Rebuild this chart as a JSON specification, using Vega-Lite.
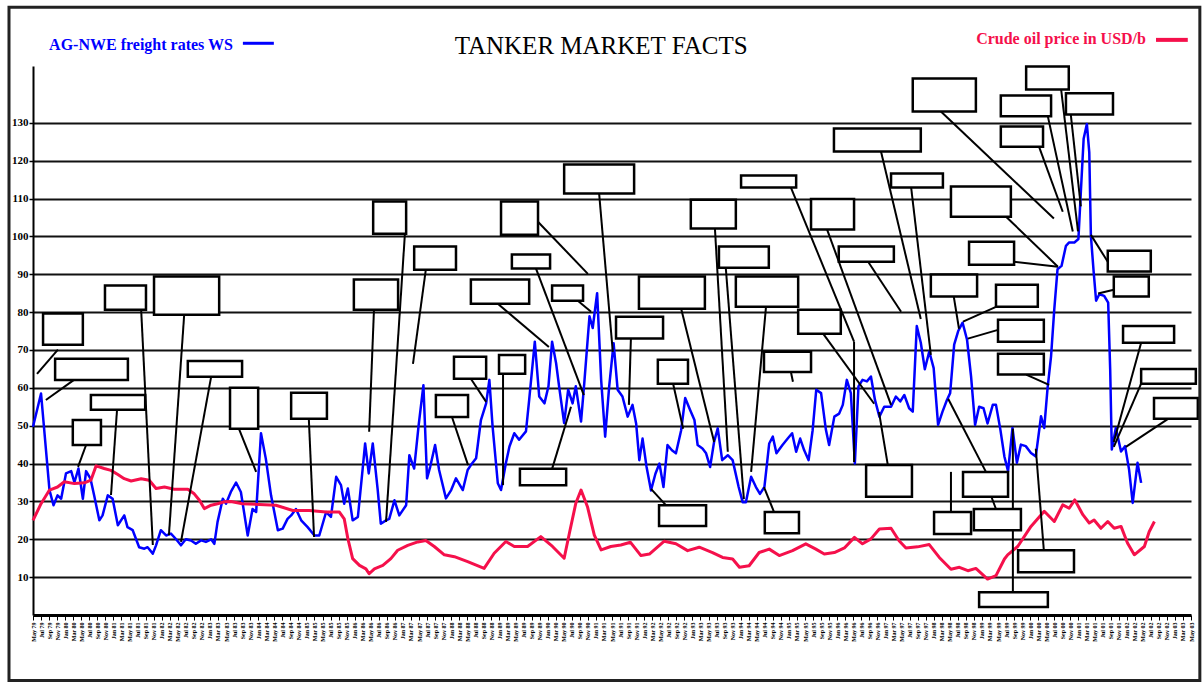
{
  "$schema": "https://vega.github.io/schema/vega-lite/v6.json",
  "width": 1158,
  "height": 549,
  "padding": {"left": 7, "top": 5, "right": 3, "bottom": 3},
  "background": "white",
  "config": {"view": {"stroke": null}, "font": "Liberation Serif"},
  "datasets": {
    "freight": [
      {"m":0,"ws":49.7},{"m":2.0,"ws":58.5},{"m":4.1,"ws":33},{"m":5.1,"ws":29},{"m":6.1,"ws":31.6},{"m":7.0,"ws":30.7},{"m":8.2,"ws":37.4},{"m":9.5,"ws":38},{"m":10.3,"ws":35},{"m":11.3,"ws":38.7},{"m":12.4,"ws":30.7},{"m":13.2,"ws":38},{"m":14.3,"ws":36},{"m":15.2,"ws":31.6},{"m":16.5,"ws":25},{"m":17.3,"ws":26.3},{"m":18.6,"ws":31.6},{"m":19.8,"ws":30.7},{"m":21.1,"ws":23.7},{"m":22.7,"ws":26.3},{"m":23.5,"ws":23.2},{"m":24.8,"ws":22.4},{"m":26.4,"ws":17.9},{"m":27.7,"ws":17.5},{"m":28.5,"ws":17.9},{"m":29.8,"ws":16.2},{"m":30.6,"ws":18.4},{"m":31.8,"ws":22.4},{"m":33.1,"ws":21},{"m":34.3,"ws":21.5},{"m":35.6,"ws":20},{"m":36.8,"ws":18.4},{"m":38.0,"ws":20},{"m":39.3,"ws":19.7},{"m":40.5,"ws":18.8},{"m":41.8,"ws":19.7},{"m":43.0,"ws":19.3},{"m":44.3,"ws":20},{"m":45.1,"ws":18.8},{"m":45.9,"ws":24.6},{"m":47.2,"ws":30.7},{"m":48.0,"ws":29.4},{"m":49.2,"ws":32.5},{"m":50.5,"ws":35},{"m":51.7,"ws":32.5},{"m":53.4,"ws":21},{"m":54.6,"ws":28},{"m":55.5,"ws":27.2},{"m":56.7,"ws":48},{"m":57.9,"ws":41.3},{"m":59.2,"ws":31.6},{"m":60.9,"ws":22.4},{"m":62.1,"ws":22.8},{"m":63.3,"ws":25.4},{"m":64.2,"ws":26.3},{"m":65.4,"ws":28},{"m":66.7,"ws":25},{"m":68.3,"ws":23.2},{"m":70.0,"ws":21},{"m":71.2,"ws":21},{"m":72.9,"ws":27.2},{"m":74.1,"ws":25.9},{"m":75.4,"ws":36.5},{"m":76.6,"ws":34.3},{"m":77.4,"ws":29.4},{"m":78.3,"ws":33.4},{"m":79.5,"ws":25},{"m":80.8,"ws":25.9},{"m":82.0,"ws":38.7},{"m":82.6,"ws":45.3},{"m":83.5,"ws":37.4},{"m":84.5,"ws":45.3},{"m":85.7,"ws":33.4},{"m":86.5,"ws":24.1},{"m":87.8,"ws":25},{"m":88.6,"ws":25.4},{"m":89.9,"ws":30.3},{"m":91.1,"ws":26.3},{"m":92.8,"ws":29},{"m":93.6,"ws":42.2},{"m":94.8,"ws":38.7},{"m":95.9,"ws":50},{"m":97.1,"ws":60.7},{"m":98.0,"ws":36.1},{"m":98.8,"ws":39.2},{"m":100.0,"ws":44.9},{"m":101.0,"ws":38.3},{"m":102.7,"ws":30.8},{"m":104.0,"ws":33},{"m":105.2,"ws":36.1},{"m":106.9,"ws":33},{"m":108.1,"ws":38.3},{"m":108.9,"ws":39.6},{"m":110.2,"ws":41.4},{"m":111.4,"ws":51.5},{"m":112.7,"ws":55.9},{"m":113.5,"ws":62.1},{"m":114.3,"ws":49.8},{"m":115.6,"ws":34.8},{"m":116.4,"ws":33},{"m":117.6,"ws":40.1},{"m":118.5,"ws":44.5},{"m":119.7,"ws":48},{"m":120.9,"ws":46.3},{"m":122.6,"ws":48.5},{"m":123.4,"ws":56.8},{"m":124.8,"ws":72.2},{"m":125.9,"ws":57.7},{"m":127.2,"ws":55.9},{"m":128.2,"ws":60.4},{"m":129.1,"ws":72.2},{"m":130.1,"ws":66.5},{"m":130.9,"ws":59.9},{"m":132.1,"ws":50.7},{"m":133.1,"ws":59.5},{"m":134.2,"ws":55.9},{"m":135.0,"ws":60.4},{"m":136.3,"ws":51.1},{"m":137.1,"ws":61.2},{"m":138.4,"ws":78.9},{"m":139.2,"ws":75.8},{"m":140.3,"ws":85},{"m":141.3,"ws":62.1},{"m":142.3,"ws":47.1},{"m":143.3,"ws":60.4},{"m":144.4,"ws":71.8},{"m":145.4,"ws":59.5},{"m":146.6,"ws":57.7},{"m":147.9,"ws":52.4},{"m":149.1,"ws":55.5},{"m":150.0,"ws":50.6},{"m":150.8,"ws":40.9},{"m":151.6,"ws":46.6},{"m":152.6,"ws":39.1},{"m":153.7,"ws":32.9},{"m":154.8,"ws":37.3},{"m":155.8,"ws":40},{"m":156.8,"ws":33.8},{"m":157.8,"ws":44.9},{"m":158.9,"ws":43.5},{"m":159.9,"ws":42.7},{"m":161.2,"ws":48.8},{"m":162.2,"ws":57.3},{"m":163.4,"ws":54.2},{"m":164.5,"ws":51.5},{"m":165.3,"ws":44.9},{"m":166.5,"ws":44},{"m":167.4,"ws":42.7},{"m":168.4,"ws":39.1},{"m":169.4,"ws":45.8},{"m":170.3,"ws":49.3},{"m":171.4,"ws":40.9},{"m":172.8,"ws":42.2},{"m":174.0,"ws":40.9},{"m":175.5,"ws":33.8},{"m":176.5,"ws":29.8},{"m":177.3,"ws":29.8},{"m":178.6,"ws":36.5},{"m":179.8,"ws":33.8},{"m":180.8,"ws":32},{"m":181.9,"ws":33.8},{"m":183.1,"ws":45.3},{"m":184.0,"ws":47.1},{"m":184.9,"ws":42.7},{"m":186.4,"ws":44.9},{"m":187.7,"ws":46.6},{"m":188.8,"ws":48},{"m":189.8,"ws":43.1},{"m":190.8,"ws":46.6},{"m":191.8,"ws":43.5},{"m":192.9,"ws":40.9},{"m":193.9,"ws":48.8},{"m":194.8,"ws":59.5},{"m":196.0,"ws":58.6},{"m":197.2,"ws":48.9},{"m":198.0,"ws":44.9},{"m":199.3,"ws":52.4},{"m":200.5,"ws":53.2},{"m":201.4,"ws":55.5},{"m":202.4,"ws":62.1},{"m":203.4,"ws":58.6},{"m":204.4,"ws":40},{"m":205.3,"ws":60.4},{"m":206.3,"ws":62.1},{"m":207.4,"ws":61.7},{"m":208.4,"ws":63},{"m":209.4,"ws":56.8},{"m":210.5,"ws":52.4},{"m":211.7,"ws":55},{"m":213.4,"ws":55},{"m":214.6,"ws":57.7},{"m":215.7,"ws":56.4},{"m":216.7,"ws":58.1},{"m":217.9,"ws":54.6},{"m":218.8,"ws":53.7},{"m":219.8,"ws":76.3},{"m":220.8,"ws":71.9},{"m":221.8,"ws":64.9},{"m":222.9,"ws":69.6},{"m":224.0,"ws":65.2},{"m":225.1,"ws":50.2},{"m":226.2,"ws":53.7},{"m":227.3,"ws":56.8},{"m":228.1,"ws":58.6},{"m":229.1,"ws":71.4},{"m":230.1,"ws":75},{"m":231.2,"ws":77.2},{"m":232.3,"ws":72.7},{"m":233.3,"ws":63},{"m":234.3,"ws":50.2},{"m":235.3,"ws":55},{"m":236.4,"ws":54.6},{"m":237.4,"ws":50.6},{"m":238.7,"ws":55.5},{"m":239.5,"ws":55.5},{"m":240.6,"ws":48.9},{"m":241.6,"ws":41.8},{"m":242.5,"ws":38},{"m":243.6,"ws":49.4},{"m":244.7,"ws":40.2},{"m":245.7,"ws":45},{"m":246.9,"ws":44.6},{"m":248.2,"ws":42.8},{"m":249.4,"ws":41.9},{"m":250.7,"ws":52.5},{"m":251.5,"ws":49.4},{"m":252.3,"ws":59.6},{"m":253.2,"ws":68.4},{"m":254.0,"ws":80.8},{"m":254.8,"ws":91.3},{"m":255.8,"ws":92.2},{"m":256.9,"ws":97.5},{"m":257.7,"ws":98.4},{"m":259.0,"ws":98.4},{"m":260.0,"ws":99.3},{"m":260.6,"ws":111.6},{"m":261.3,"ws":125.8},{"m":262.1,"ws":129.7},{"m":262.7,"ws":122.2},{"m":263.1,"ws":100.2},{"m":263.8,"ws":90.5},{"m":264.4,"ws":83},{"m":265.2,"ws":84.7},{"m":266.4,"ws":84.3},{"m":267.4,"ws":82.5},{"m":267.9,"ws":64.9},{"m":268.3,"ws":43.7},{"m":269.3,"ws":49.4},{"m":270.6,"ws":43.2},{"m":271.6,"ws":44.6},{"m":272.6,"ws":38.4},{"m":273.5,"ws":29.6},{"m":274.7,"ws":40.2},{"m":275.6,"ws":34.9}
    ],
    "crude": [
      {"m":0,"usd":25},{"m":2.0,"usd":29.4},{"m":4.1,"usd":33},{"m":6.1,"usd":33.8},{"m":7.8,"usd":35.2},{"m":10.3,"usd":34.7},{"m":12.8,"usd":34.9},{"m":14.4,"usd":35.6},{"m":15.7,"usd":39.4},{"m":17.7,"usd":38.7},{"m":19.4,"usd":38.2},{"m":21.1,"usd":37.1},{"m":22.7,"usd":36},{"m":24.4,"usd":35.4},{"m":26.9,"usd":36},{"m":28.9,"usd":35.6},{"m":30.6,"usd":33.4},{"m":32.7,"usd":33.8},{"m":35.1,"usd":33.2},{"m":38.5,"usd":33.2},{"m":40.1,"usd":32},{"m":41.4,"usd":30.3},{"m":42.6,"usd":28.1},{"m":44.3,"usd":29},{"m":45.9,"usd":29.4},{"m":47.6,"usd":29.9},{"m":49.2,"usd":30},{"m":52.1,"usd":29.4},{"m":56.3,"usd":29.2},{"m":60.4,"usd":29},{"m":64.6,"usd":27.6},{"m":68.7,"usd":27.6},{"m":72.9,"usd":27.2},{"m":76.2,"usd":27.2},{"m":77.4,"usd":25.4},{"m":78.3,"usd":20.2},{"m":79.5,"usd":14.9},{"m":81.2,"usd":13.1},{"m":82.8,"usd":12.2},{"m":83.6,"usd":10.9},{"m":84.9,"usd":12.2},{"m":87.0,"usd":13.1},{"m":89.0,"usd":14.9},{"m":90.7,"usd":17.1},{"m":93.2,"usd":18.4},{"m":95.7,"usd":19.3},{"m":97.7,"usd":19.7},{"m":99.8,"usd":18.1},{"m":102.3,"usd":15.9},{"m":104.8,"usd":15.4},{"m":108.1,"usd":14.1},{"m":112.2,"usd":12.3},{"m":114.7,"usd":16.3},{"m":117.6,"usd":19.4},{"m":119.7,"usd":18.1},{"m":123.0,"usd":18.1},{"m":126.3,"usd":20.7},{"m":129.2,"usd":18.1},{"m":132.1,"usd":15},{"m":133.4,"usd":21.6},{"m":135.0,"usd":29.5},{"m":136.3,"usd":33},{"m":137.9,"usd":28.6},{"m":139.6,"usd":21.1},{"m":141.3,"usd":17.2},{"m":143.7,"usd":18.1},{"m":146.2,"usd":18.5},{"m":148.6,"usd":19.2},{"m":151.2,"usd":15.7},{"m":153.3,"usd":16.1},{"m":157.0,"usd":19.5},{"m":159.9,"usd":18.8},{"m":162.8,"usd":17},{"m":165.7,"usd":17.9},{"m":169.0,"usd":16.5},{"m":171.5,"usd":15.2},{"m":174.0,"usd":14.8},{"m":175.7,"usd":12.6},{"m":178.1,"usd":13},{"m":180.6,"usd":16.5},{"m":183.1,"usd":17.4},{"m":185.6,"usd":15.7},{"m":188.9,"usd":17},{"m":192.2,"usd":18.8},{"m":194.7,"usd":17.4},{"m":196.8,"usd":16.1},{"m":199.3,"usd":16.5},{"m":201.8,"usd":17.7},{"m":204.3,"usd":20.5},{"m":206.3,"usd":18.8},{"m":208.4,"usd":20.1},{"m":210.5,"usd":22.7},{"m":213.4,"usd":22.9},{"m":215.4,"usd":19.6},{"m":217.1,"usd":17.7},{"m":220.0,"usd":18},{"m":222.9,"usd":18.6},{"m":225.4,"usd":15.2},{"m":228.3,"usd":12.1},{"m":230.4,"usd":12.6},{"m":232.5,"usd":11.7},{"m":234.5,"usd":12.3},{"m":237.4,"usd":9.5},{"m":239.5,"usd":10.4},{"m":241.6,"usd":14.8},{"m":242.4,"usd":15.9},{"m":244.9,"usd":18.1},{"m":248.2,"usd":23.4},{"m":251.5,"usd":27.4},{"m":254.0,"usd":24.7},{"m":256.1,"usd":29.1},{"m":257.7,"usd":28.2},{"m":259.1,"usd":30.4},{"m":261.1,"usd":26.5},{"m":262.7,"usd":24.3},{"m":263.9,"usd":25.1},{"m":265.6,"usd":22.9},{"m":267.3,"usd":24.7},{"m":268.9,"usd":22.9},{"m":270.6,"usd":23.4},{"m":272.2,"usd":19},{"m":273.9,"usd":15.9},{"m":276.4,"usd":18.1},{"m":277.6,"usd":22},{"m":278.9,"usd":24.7}
    ],
    "boxes": [
      {"m1":2.5,"m2":12.4,"v1":79.6,"v2":71.4},{"m1":5.5,"m2":23.6,"v1":67.7,"v2":62.1},{"m1":14.4,"m2":27.9,"v1":58.1,"v2":54.2},{"m1":9.9,"m2":16.9,"v1":51.5,"v2":44.9},{"m1":17.9,"m2":28.1,"v1":87.0,"v2":80.6},{"m1":30.1,"m2":46.3,"v1":89.4,"v2":79.3},{"m1":38.5,"m2":52.0,"v1":67.1,"v2":62.9},{"m1":49.0,"m2":56.0,"v1":60.0,"v2":49.2},{"m1":64.2,"m2":73.1,"v1":58.7,"v2":51.8},{"m1":79.8,"m2":90.8,"v1":88.6,"v2":80.6},{"m1":84.6,"m2":92.8,"v1":109.2,"v2":100.7},{"m1":94.8,"m2":105.2,"v1":97.3,"v2":91.2},{"m1":104.7,"m2":112.7,"v1":68.2,"v2":62.4},{"m1":100.2,"m2":108.2,"v1":58.1,"v2":52.3},{"m1":115.9,"m2":122.4,"v1":68.7,"v2":63.7},{"m1":108.9,"m2":123.4,"v1":88.6,"v2":82.2},{"m1":119.1,"m2":128.6,"v1":95.2,"v2":91.5},{"m1":116.4,"m2":125.6,"v1":109.2,"v2":100.4},{"m1":129.1,"m2":136.8,"v1":87.0,"v2":83.0},{"m1":121.1,"m2":132.6,"v1":38.6,"v2":34.3},{"m1":132.1,"m2":149.5,"v1":119.0,"v2":111.3},{"m1":145.0,"m2":156.7,"v1":78.8,"v2":73.0},{"m1":150.7,"m2":167.1,"v1":89.4,"v2":80.9},{"m1":155.4,"m2":162.9,"v1":67.4,"v2":61.1},{"m1":155.7,"m2":167.4,"v1":29.0,"v2":23.5},{"m1":170.6,"m2":183.0,"v1":97.3,"v2":91.7},{"m1":163.6,"m2":174.8,"v1":109.7,"v2":102.1},{"m1":174.8,"m2":190.3,"v1":89.4,"v2":81.4},{"m1":181.8,"m2":193.5,"v1":69.5,"v2":64.2},{"m1":182.0,"m2":190.5,"v1":27.2,"v2":21.6},{"m1":176.1,"m2":189.8,"v1":116.1,"v2":112.9},{"m1":193.5,"m2":204.2,"v1":109.9,"v2":101.8},{"m1":200.4,"m2":214.1,"v1":97.3,"v2":93.3},{"m1":190.3,"m2":200.9,"v1":80.6,"v2":74.3},{"m1":199.2,"m2":220.8,"v1":128.5,"v2":122.4},{"m1":213.4,"m2":226.3,"v1":116.6,"v2":112.9},{"m1":218.8,"m2":234.5,"v1":141.7,"v2":133.0},{"m1":223.3,"m2":234.8,"v1":89.9,"v2":84.1},{"m1":207.2,"m2":218.6,"v1":39.6,"v2":31.2},{"m1":231.3,"m2":242.5,"v1":37.8,"v2":31.2},{"m1":224.1,"m2":233.3,"v1":27.2,"v2":21.4},{"m1":234.0,"m2":245.7,"v1":28.0,"v2":22.4},{"m1":240.7,"m2":251.2,"v1":129.0,"v2":123.7},{"m1":240.7,"m2":253.2,"v1":137.2,"v2":131.7},{"m1":247.0,"m2":257.6,"v1":144.9,"v2":138.8},{"m1":256.9,"m2":268.6,"v1":137.8,"v2":132.2},{"m1":228.3,"m2":243.2,"v1":113.2,"v2":105.2},{"m1":232.8,"m2":244.0,"v1":98.6,"v2":92.5},{"m1":239.5,"m2":249.9,"v1":87.2,"v2":81.4},{"m1":240.0,"m2":251.4,"v1":78.0,"v2":72.2},{"m1":240.0,"m2":251.4,"v1":69.0,"v2":63.5},{"m1":267.3,"m2":278.0,"v1":96.2,"v2":90.7},{"m1":268.8,"m2":277.5,"v1":89.4,"v2":84.1},{"m1":271.1,"m2":283.8,"v1":76.3,"v2":71.9},{"m1":275.6,"m2":289.2,"v1":65.0,"v2":61.1},{"m1":278.8,"m2":289.7,"v1":57.3,"v2":51.8},{"m1":245.0,"m2":258.9,"v1":17.1,"v2":11.3},{"m1":235.3,"m2":252.4,"v1":6.0,"v2":2.1}
    ],
    "leaders": [
      {"m1":6.2,"v1":70.1,"m2":1.0,"v2":63.7},{"m1":10.2,"v1":62.1,"m2":3.2,"v2":56.8},{"m1":20.9,"v1":54.2,"m2":19.4,"v2":31.7},{"m1":13.2,"v1":44.9,"m2":11.2,"v2":39.1},{"m1":26.9,"v1":80.6,"m2":29.8,"v2":18.5},{"m1":37.6,"v1":79.3,"m2":33.8,"v2":21.1},{"m1":44.3,"v1":62.9,"m2":36.8,"v2":19.3},{"m1":51.2,"v1":49.2,"m2":55.5,"v2":37.8},{"m1":68.6,"v1":51.8,"m2":69.9,"v2":20.6},{"m1":84.8,"v1":80.6,"m2":83.6,"v2":48.4},{"m1":92.5,"v1":100.7,"m2":87.8,"v2":24.6},{"m1":97.7,"v1":91.2,"m2":94.5,"v2":66.3},{"m1":108.9,"v1":62.4,"m2":112.7,"v2":56.3},{"m1":104.2,"v1":52.3,"m2":108.2,"v2":39.6},{"m1":116.9,"v1":63.7,"m2":116.9,"v2":34.3},{"m1":115.6,"v1":82.2,"m2":128.3,"v2":70.8},{"m1":125.1,"v1":91.5,"m2":137.0,"v2":58.1},{"m1":125.1,"v1":104.4,"m2":138.0,"v2":90.1},{"m1":135.5,"v1":83.0,"m2":138.8,"v2":80.1},{"m1":129.1,"v1":38.6,"m2":133.8,"v2":55.0},{"m1":140.8,"v1":111.3,"m2":144.2,"v2":69.5},{"m1":148.7,"v1":73.0,"m2":148.2,"v2":55.5},{"m1":161.2,"v1":80.9,"m2":169.4,"v2":45.7},{"m1":159.2,"v1":61.1,"m2":161.7,"v2":49.2},{"m1":157.4,"v1":29.0,"m2":153.7,"v2":33.3},{"m1":172.3,"v1":91.7,"m2":176.8,"v2":30.6},{"m1":169.6,"v1":102.1,"m2":172.8,"v2":43.1},{"m1":182.3,"v1":81.4,"m2":178.6,"v2":37.8},{"m1":188.5,"v1":64.2,"m2":189.0,"v2":61.6},{"m1":184.3,"v1":27.2,"m2":181.8,"v2":33.8},{"m1":188.5,"v1":112.9,"m2":204.2,"v2":72.2},{"m1":204.2,"v1":72.2,"m2":204.2,"v2":40.4},{"m1":197.5,"v1":101.8,"m2":213.4,"v2":55.5},{"m1":207.7,"v1":93.3,"m2":215.9,"v2":80.1},{"m1":196.5,"v1":74.3,"m2":209.2,"v2":55.8},{"m1":210.9,"v1":122.4,"m2":220.8,"v2":78.2},{"m1":218.4,"v1":112.9,"m2":223.3,"v2":68.7},{"m1":225.8,"v1":133.0,"m2":253.9,"v2":104.7},{"m1":229.0,"v1":84.1,"m2":230.3,"v2":75.6},{"m1":212.6,"v1":39.6,"m2":210.4,"v2":53.6},{"m1":237.0,"v1":37.8,"m2":227.6,"v2":57.1},{"m1":228.3,"v1":37.8,"m2":228.3,"v2":27.2},{"m1":239.5,"v1":28.0,"m2":236.5,"v2":36.5},{"m1":250.2,"v1":123.7,"m2":256.1,"v2":106.5},{"m1":252.4,"v1":131.7,"m2":258.6,"v2":101.3},{"m1":255.7,"v1":138.8,"m2":259.9,"v2":101.3},{"m1":258.1,"v1":132.2,"m2":260.6,"v2":107.9},{"m1":242.0,"v1":105.2,"m2":254.9,"v2":92.0},{"m1":244.0,"v1":93.3,"m2":254.9,"v2":92.0},{"m1":239.5,"v1":81.4,"m2":231.3,"v2":77.5},{"m1":240.0,"v1":75.3,"m2":232.5,"v2":73.0},{"m1":247.0,"v1":63.5,"m2":252.7,"v2":60.8},{"m1":267.3,"v1":93.3,"m2":263.1,"v2":100.4},{"m1":268.8,"v1":85.9,"m2":264.9,"v2":84.9},{"m1":275.6,"v1":71.9,"m2":268.8,"v2":45.7},{"m1":275.6,"v1":61.1,"m2":268.8,"v2":44.4},{"m1":282.3,"v1":51.8,"m2":271.8,"v2":44.4},{"m1":251.4,"v1":17.1,"m2":249.4,"v2":43.9},{"m1":243.7,"v1":6.0,"m2":243.7,"v2":49.2}
    ]
  },
  "layer": [
    {
      "data": {"name": "freight"},
      "mark": {"type": "line", "color": "#0000ff", "strokeWidth": 2.5, "strokeJoin": "round"},
      "encoding": {
        "x": {"field": "m", "type": "quantitative",
          "scale": {"domain": [0, 288], "nice": false, "zero": false},
          "axis": {"title": null, "tickCount": 144, "grid": false, "domainColor": "#000", "domainWidth": 3,
            "tickColor": "#000", "tickSize": 5, "tickWidth": 1, "labelAngle": -90, "labelFontSize": 6,
            "labelFontWeight": "bold", "labelColor": "#000", "labelOverlap": false, "labelFlush": false, "labelPadding": 2,
            "labelExpr": "timeFormat(datetime(1979, 4 + datum.value, 1), '%b %y')"}},
        "y": {"field": "ws", "type": "quantitative",
          "scale": {"domain": [0, 145], "nice": false},
          "axis": {"title": null, "values": [10,20,30,40,50,60,70,80,90,100,110,120,130], "grid": true,
            "gridColor": "#111", "gridWidth": 2, "domainColor": "#000", "domainWidth": 2,
            "tickColor": "#000", "tickSize": 4, "tickWidth": 1.5, "labelFont": "Liberation Serif",
            "labelFontWeight": "bold", "labelFontSize": 11, "labelColor": "#000", "labelPadding": 1}}
      }
    },
    {
      "data": {"name": "crude"},
      "mark": {"type": "line", "color": "#f5104b", "strokeWidth": 3, "strokeJoin": "round"},
      "encoding": {
        "x": {"field": "m", "type": "quantitative"},
        "y": {"field": "usd", "type": "quantitative"}
      }
    },
    {
      "data": {"name": "leaders"},
      "mark": {"type": "rule", "color": "#000", "strokeWidth": 2},
      "encoding": {
        "x": {"field": "m1", "type": "quantitative"},
        "x2": {"field": "m2"},
        "y": {"field": "v1", "type": "quantitative"},
        "y2": {"field": "v2"}
      }
    },
    {
      "data": {"name": "boxes"},
      "mark": {"type": "rect", "fill": "white", "stroke": "#000", "strokeWidth": 2.5},
      "encoding": {
        "x": {"field": "m1", "type": "quantitative"},
        "x2": {"field": "m2"},
        "y": {"field": "v1", "type": "quantitative"},
        "y2": {"field": "v2"}
      }
    },
    {
      "data": {"values": [{}]},
      "mark": {"type": "rect", "fill": "transparent", "stroke": "#222", "strokeWidth": 3},
      "encoding": {
        "x": {"datum": -5.97, "type": "quantitative"},
        "x2": {"datum": 290.2},
        "y": {"datum": 160.5, "type": "quantitative"},
        "y2": {"datum": -17.3}
      }
    },
    {
      "data": {"values": [{}]},
      "mark": {"type": "text", "align": "left", "baseline": "alphabetic", "fontSize": 16, "fontWeight": "bold", "font": "Liberation Serif", "color": "#0000ff"},
      "encoding": {
        "x": {"datum": 4.0, "type": "quantitative"},
        "y": {"datum": 149.2, "type": "quantitative"},
        "text": {"value": "AG-NWE freight rates WS"}
      }
    },
    {
      "data": {"values": [{}]},
      "mark": {"type": "text", "align": "center", "baseline": "alphabetic", "fontSize": 25, "font": "Liberation Serif", "color": "#000"},
      "encoding": {
        "x": {"datum": 141.3, "type": "quantitative"},
        "y": {"datum": 148.3, "type": "quantitative"},
        "text": {"value": "TANKER MARKET FACTS"}
      }
    },
    {
      "data": {"values": [{}]},
      "mark": {"type": "text", "align": "right", "baseline": "alphabetic", "fontSize": 16, "fontWeight": "bold", "font": "Liberation Serif", "color": "#f5104b"},
      "encoding": {
        "x": {"datum": 276.8, "type": "quantitative"},
        "y": {"datum": 150.7, "type": "quantitative"},
        "text": {"value": "Crude oil price in USD/b"}
      }
    },
    {
      "data": {"values": [{}]},
      "mark": {"type": "rule", "color": "#0000ff", "strokeWidth": 3},
      "encoding": {
        "x": {"datum": 52.2, "type": "quantitative"},
        "x2": {"datum": 59.9},
        "y": {"datum": 151.0, "type": "quantitative"}
      }
    },
    {
      "data": {"values": [{}]},
      "mark": {"type": "rule", "color": "#f5104b", "strokeWidth": 4},
      "encoding": {
        "x": {"datum": 279.3, "type": "quantitative"},
        "x2": {"datum": 287.2},
        "y": {"datum": 151.9, "type": "quantitative"}
      }
    }
  ]
}
